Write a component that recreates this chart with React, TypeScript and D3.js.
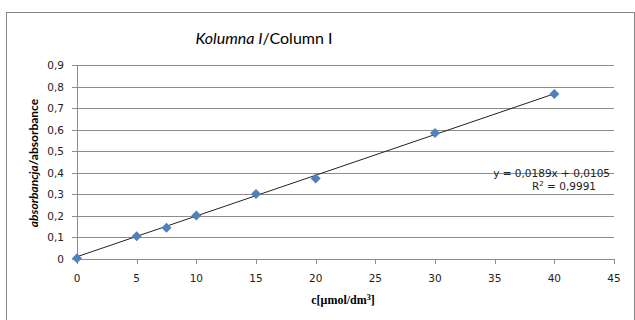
import React from "react";
import { scaleLinear, range } from "d3";

// measured points
const concentrations = [0, 5, 7.5, 10, 15, 20, 30, 40];
const absorbances = [0.003, 0.105, 0.145, 0.202, 0.302, 0.374, 0.585, 0.765];
// fitted line from the chart label
const slope = 0.0189;
const intercept = 0.0105;
const xTicks = range(0, 46, 5);
const yTicks = range(0, 10).map((i) => i / 10);
const fmt = (v: number) => String(Math.round(v * 10) / 10).replace(".", ",");

const W = 635;
const H = 320;

export default function App() {
  const x = scaleLinear().domain([0, 45]).range([77, 614]);
  const y = scaleLinear().domain([0, 0.9]).range([259, 65]);
  const sans = "'DejaVu Sans', Verdana, sans-serif";
  const diamond = (cx: number, cy: number) =>
    `M${cx},${cy - 5}L${cx + 5},${cy}L${cx},${cy + 5}L${cx - 5},${cy}Z`;

  return (
    <svg
      width={W}
      height={H}
      style={{ position: "absolute", left: 0, top: 0, background: "#fff" }}
    >
      <rect x={6.5} y={12.5} width={628} height={320} fill="#fff" stroke="#868686" />

      {/* title */}
      <text x={264} y={44} textAnchor="middle" fontFamily="Lato, sans-serif" fontSize={16}>
        <tspan fontStyle="italic">Kolumna I</tspan>
        <tspan>/Column I</tspan>
      </text>

      {/* gridlines + y ticks */}
      {yTicks.map((t) => (
        <g key={t}>
          {t > 0 && (
            <line x1={x(0)} x2={x(45)} y1={Math.round(y(t)) + 0.5} y2={Math.round(y(t)) + 0.5} stroke="#8c8c8c" />
          )}
          <line x1={72} x2={x(0)} y1={Math.round(y(t)) + 0.5} y2={Math.round(y(t)) + 0.5} stroke="#8c8c8c" />
          <text x={64} y={y(t) + 4} textAnchor="end" fontFamily={sans} fontSize={10.5} fill="#222">
            {fmt(t)}
          </text>
        </g>
      ))}

      {/* axes */}
      <line x1={Math.round(x(0)) + 0.5} x2={Math.round(x(0)) + 0.5} y1={y(0.9)} y2={y(0)} stroke="#8c8c8c" />
      <line x1={x(0)} x2={x(45)} y1={Math.round(y(0)) + 0.5} y2={Math.round(y(0)) + 0.5} stroke="#8c8c8c" />
      {xTicks.map((t) => (
        <g key={t}>
          <line x1={Math.round(x(t)) + 0.5} x2={Math.round(x(t)) + 0.5} y1={y(0)} y2={y(0) + 5} stroke="#8c8c8c" />
          <text x={x(t)} y={282} textAnchor="middle" fontFamily={sans} fontSize={10.5} fill="#222">
            {t}
          </text>
        </g>
      ))}

      {/* trend line */}
      <line
        x1={x(0)}
        y1={y(intercept)}
        x2={x(40)}
        y2={y(slope * 40 + intercept)}
        stroke="#222"
        strokeWidth={1}
      />

      {/* points */}
      {concentrations.map((c, i) => (
        <path key={i} d={diamond(x(c), y(absorbances[i]))} fill="#4f81bd" />
      ))}

      {/* equation */}
      <text x={610} y={177} textAnchor="end" fontFamily={sans} fontSize={10.5} fill="#222">
        y = 0,0189x + 0,0105
      </text>
      <text x={596} y={190} textAnchor="end" fontFamily={sans} fontSize={10.5} fill="#222">
        R<tspan dy={-4} fontSize={7}>2</tspan>
        <tspan dy={4}> = 0,9991</tspan>
      </text>

      {/* axis titles */}
      <text
        transform={`translate(38,${163}) rotate(-90)`}
        textAnchor="middle"
        fontFamily="Lato, sans-serif"
        fontWeight="bold"
        fontSize={12}
      >
        <tspan fontStyle="italic">absorbancja</tspan>
        <tspan>/absorbance</tspan>
      </text>
      <text
        x={343}
        y={304}
        textAnchor="middle"
        fontFamily="Liberation Serif, Times New Roman, serif"
        fontWeight="bold"
        fontSize={12}
      >
        c[μmol/dm<tspan dy={-4} fontSize={8}>3</tspan>
        <tspan dy={4}>]</tspan>
      </text>
    </svg>
  );
}
